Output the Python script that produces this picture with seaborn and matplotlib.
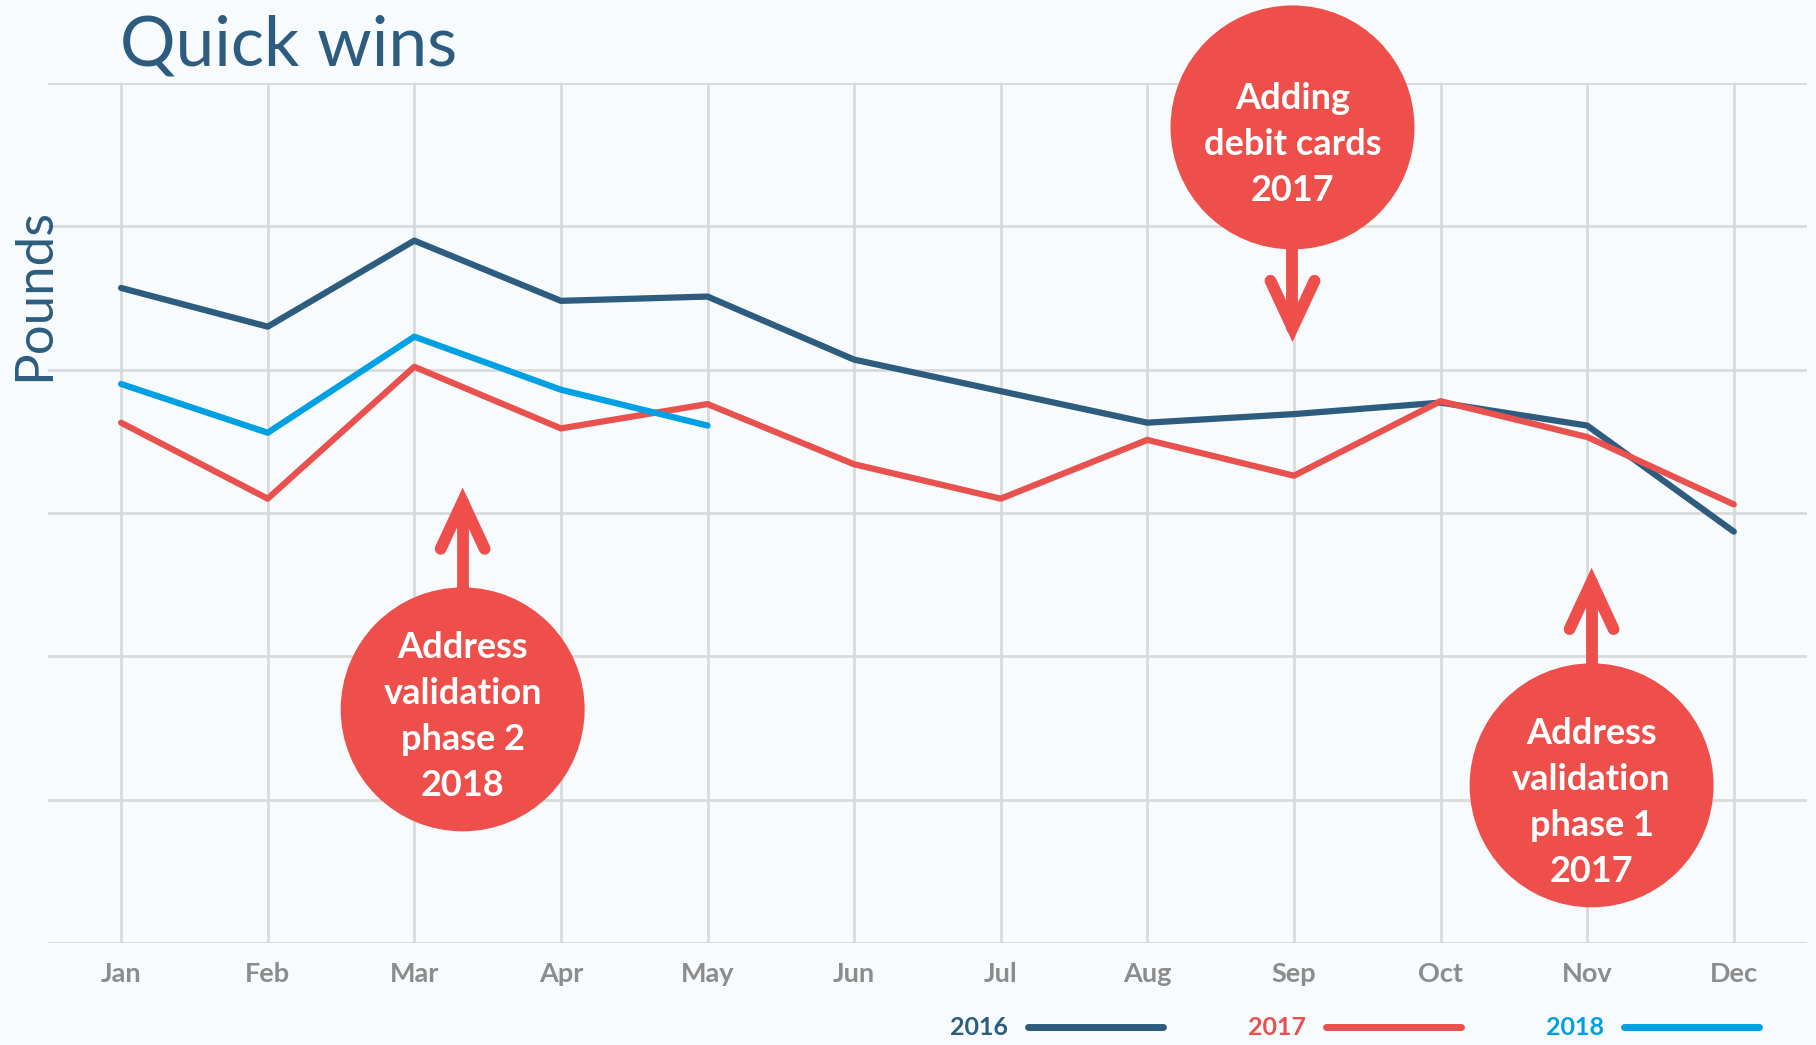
import matplotlib
matplotlib.use("Agg")
import matplotlib.pyplot as plt
from matplotlib.lines import Line2D
from matplotlib.patches import Ellipse
import seaborn as sns
import pandas as pd

# ---------------- data ----------------
months = ["Jan", "Feb", "Mar", "Apr", "May", "Jun",
          "Jul", "Aug", "Sep", "Oct", "Nov", "Dec"]
values_2016 = [4.57, 4.30, 4.90, 4.48, 4.51, 4.07, 3.85, 3.63, 3.69, 3.77, 3.61, 2.87]
values_2017 = [3.63, 3.10, 4.02, 3.59, 3.76, 3.34, 3.10, 3.51, 3.26, 3.78, 3.53, 3.06]
values_2018 = [3.90, 3.56, 4.23, 3.86, 3.61]
years = ["2016", "2017", "2018"]
title_text = "Quick wins"
ylabel_text = "Pounds"
notes = ["Address\nvalidation\nphase 2\n2018",
         "Adding\ndebit cards\n2017",
         "Address\nvalidation\nphase 1\n2017"]

# ---------------- style ----------------
BG = "#F7FBFD"
C16, C17, C18 = "#2D5C7E", "#E8514D", "#00A0E2"
NOTE = "#EE4F4B"
GRID = "#DADADA"
palette = {"2016": C16, "2017": C17, "2018": C18}

sns.set_theme(style="whitegrid")
plt.rcParams["font.family"] = ["Lato", "DejaVu Sans"]

rows = []
for yr, vals in zip(years, [values_2016, values_2017, values_2018]):
    for m, v in zip(months, vals):
        rows.append({"month": m, "value": v, "year": yr})
df = pd.DataFrame(rows)

fig = plt.figure(figsize=(18.16, 10.45), dpi=100, facecolor=BG)
ax = fig.add_axes([0.0263, 0.0976, 0.9688, 0.8230])
ax.set_facecolor(BG)

sns.lineplot(data=df, x="month", y="value", hue="year", palette=palette,
             linewidth=4.5, ax=ax, legend=False, sort=False,
             solid_capstyle="round", zorder=3)

ax.set_xlim(-0.5, 11.5)
ax.set_ylim(0, 6)
ax.set_yticks(range(0, 7))
ax.set_yticklabels([])
ax.set_xticks(range(12))
ax.set_xticklabels(months)
ax.grid(True, color=GRID, linewidth=2)
for s in ax.spines.values():
    s.set_visible(False)
ax.tick_params(axis="x", length=0, pad=14, labelsize=19.5, labelcolor="#8C8C8C")
ax.tick_params(axis="y", length=0)
for lab in ax.get_xticklabels():
    lab.set_fontweight("bold")
ax.set_xlabel("")
ax.set_ylabel("")

# title and y label
fig.text(0.066, 0.937, title_text, fontsize=50, color=C16, ha="left", va="baseline")
fig.text(0.019, 0.718, ylabel_text, fontsize=38, color=C16, rotation=90,
         ha="center", va="center")

# ---------------- annotation bubbles ----------------
RX, RY = 0.832, 0.851
HX, HY = 0.150, 0.330
ann = [  # (center x, center y, tip y, direction, text offset)
    (2.33, 1.63, 3.08, +1, 0.05),
    (7.99, 5.69, 4.29, -1, 0.12),
    (10.03, 1.10, 2.52, +1, 0.12),
]
for (cx, cy, ty, d, off), txt in zip(ann, notes):
    e = Ellipse((cx, cy), 2 * RX, 2 * RY, facecolor=NOTE, edgecolor="none",
                clip_on=False, zorder=5)
    ax.add_patch(e)
    base = cy + d * (RY - 0.05)
    ax.plot([cx, cx], [base, ty], color=NOTE, lw=8.5, solid_capstyle="round",
            clip_on=False, zorder=5)
    ax.plot([cx - HX, cx, cx + HX], [ty - d * HY, ty, ty - d * HY], color=NOTE,
            lw=8.5, solid_capstyle="round", solid_joinstyle="miter",
            clip_on=False, zorder=5)
    ax.text(cx, cy - off, txt, color="white", fontsize=26, fontweight="bold",
            ha="center", va="center", linespacing=1.48, zorder=6)

# ---------------- legend ----------------
handles = [Line2D([0], [0], color=palette[y], lw=5, solid_capstyle="round") for y in years]
leg = fig.legend(handles, years, loc="center right", bbox_to_anchor=(0.981, 0.0163),
                 ncol=3, frameon=False, markerfirst=False, handlelength=5.4,
                 handletextpad=0.8, columnspacing=3.4,
                 prop={"weight": "bold", "size": 18})
for t, y in zip(leg.get_texts(), years):
    t.set_color(palette[y])

fig.savefig("out.png", dpi=100, facecolor=BG)
